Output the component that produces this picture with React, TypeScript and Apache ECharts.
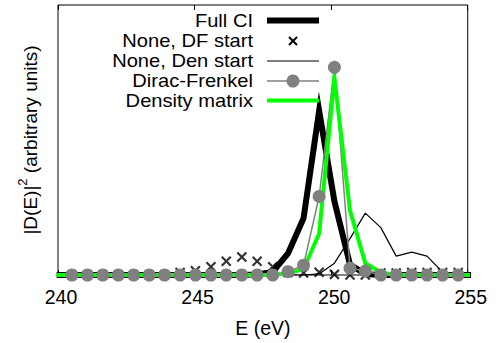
import React, { useEffect, useRef } from "react";
import * as echarts from "echarts";

// Energy grid (eV)
const energies = [
  239.95, 240.51, 241.08, 241.64, 242.21, 242.77, 243.34, 243.9, 244.47, 245.03,
  245.6, 246.16, 246.73, 247.29, 247.86, 248.42, 248.99, 249.56, 250.12, 250.69,
  251.25, 251.82, 252.38, 252.95, 253.51, 254.08, 254.65, 255.21,
];

const fullCI = [
  0, 0, 0, 0, 0, 0, 0, 0, 0, 0,
  0, 0, 0, 0.003, 0.015, 0.104, 0.274, 0.79, 0.355, 0.05,
  0.004, 0, 0, 0, 0, 0, 0, 0,
];

const noneDFStart = [
  0, 0, 0, 0, 0, 0, 0, 0, 0.012, 0.02,
  0.04, 0.066, 0.087, 0.066, 0.04, 0.012, 0.01, 0.013, 0.003, 0,
  0, 0.01, 0.01, 0.012, 0.012, 0.012, 0.012, 0,
];

const noneDenStart = [
  0, 0, 0, 0, 0, 0, 0, 0, 0, 0,
  0, 0, 0, 0, 0, 0, 0, 0.005, 0.057, 0.175,
  0.298, 0.228, 0.091, 0.11, 0.091, 0.014, 0, 0,
];

const diracFrenkel = [
  0, 0, 0, 0, 0, 0, 0, 0, 0, 0,
  0, 0, 0, 0, 0, 0.016, 0.047, 0.378, 1.0, 0.032,
  0.019, 0, 0, 0, 0, 0, 0, 0,
];

const densityMatrix = [
  0, 0, 0, 0, 0, 0, 0, 0, 0, 0,
  0, 0, 0, 0, 0, 0.008, 0.028, 0.2, 0.95, 0.31,
  0.057, 0.012, 0, 0, 0, 0, 0, 0,
];

const legendNames = [
  "Full CI",
  "None, DF start",
  "None, Den start",
  "Dirac-Frenkel",
  "Density matrix",
];

const xMin = 240;
const xMax = 255;
const xStep = 5;
const yMin = 0;
const yMax = 1.3;

const FONT = '"Liberation Sans", Arial, Helvetica, sans-serif';
const GRAY = "#808080";
const GREEN = "#00ff00";

const pairs = (vals: number[]) => energies.map((e, i) => [e, vals[i]]);

export default function App() {
  const ref = useRef<HTMLDivElement>(null);

  useEffect(() => {
    if (!ref.current) return;
    const chart = echarts.init(ref.current, undefined, { renderer: "svg" });

    const rowY = [20.5, 41, 61, 81, 100.5];
    const textRight = 253;
    const iconL = 267;
    const iconR = 319;
    const iconC = 293;
    const hl = (y: number, stroke: string, lineWidth: number) => ({
      type: "line",
      shape: { x1: iconL, y1: y, x2: iconR, y2: y },
      style: { stroke, lineWidth },
      z: 100,
    });

    const graphic: any[] = [
      ...legendNames.map((n, i) => ({
        type: "text",
        z: 100,
        x: textRight,
        y: rowY[i],
        scaleX: 1.15,
        scaleY: 1,
        style: {
          text: n,
          x: 0,
          y: 0,
          align: "right",
          verticalAlign: "middle",
          fontSize: 17.5,
          fontFamily: FONT,
          fill: "#000",
        },
      })),
      hl(rowY[0], "#000", 6),
      {
        type: "line",
        z: 100,
        shape: { x1: iconC - 4, y1: rowY[1] - 4, x2: iconC + 4, y2: rowY[1] + 4 },
        style: { stroke: "#000", lineWidth: 2 },
      },
      {
        type: "line",
        z: 100,
        shape: { x1: iconC + 4, y1: rowY[1] - 4, x2: iconC - 4, y2: rowY[1] + 4 },
        style: { stroke: "#000", lineWidth: 2 },
      },
      hl(rowY[2], "#000", 1.2),
      hl(rowY[3], GRAY, 1.5),
      {
        type: "circle",
        z: 100,
        shape: { cx: iconC, cy: rowY[3], r: 6.5 },
        style: { fill: GRAY },
      },
      hl(rowY[4], GREEN, 4),
    ];

    const xAxisBase = {
      type: "value",
      min: xMin,
      max: xMax,
      interval: xStep,
      splitLine: { show: false },
      axisLine: { show: false },
      axisTick: { show: true, inside: true, length: 5, lineStyle: { color: "#000", width: 1 } },
    };

    chart.setOption({
      animation: false,
      backgroundColor: "#fff",
      grid: {
        left: 58,
        right: 12,
        top: 5,
        bottom: 63,
        show: true,
        borderColor: "#000",
        borderWidth: 1,
        backgroundColor: "transparent",
        containLabel: false,
      },
      xAxis: [
        {
          ...xAxisBase,
          position: "bottom",
          name: "E (eV)",
          nameLocation: "middle",
          nameGap: 43,
          nameTextStyle: { fontSize: 19.5, fontFamily: FONT, color: "#000" },
          axisLabel: {
            show: true,
            fontSize: 19.5,
            fontFamily: FONT,
            color: "#000",
            margin: 12,
            padding: [0, 0, 0, 6],
          },
        },
        {
          ...xAxisBase,
          position: "top",
          axisLabel: { show: false },
        },
      ],
      yAxis: {
        type: "value",
        min: yMin,
        max: yMax,
        splitLine: { show: false },
        axisLine: { show: false },
        axisTick: { show: false },
        axisLabel: { show: false },
        name: "|D(E)|{sup|2} (arbitrary units)",
        nameLocation: "middle",
        nameGap: 14,
        nameTextStyle: {
          fontSize: 19,
          fontFamily: FONT,
          color: "#000",
          lineHeight: 28,
          rich: {
            sup: { fontSize: 13, fontFamily: FONT, color: "#000", lineHeight: 13, verticalAlign: "top" },
          },
        },
      },
      graphic,
      series: [
        {
          name: legendNames[0],
          type: "line",
          data: pairs(fullCI),
          symbol: "none",
          lineStyle: { color: "#000", width: 6, join: "miter", miterLimit: 10.01 },
          clip: true,
        },
        {
          name: legendNames[1],
          type: "scatter",
          data: pairs(noneDFStart),
          symbol: "path://M0,0L10,10M10,0L0,10",
          symbolSize: 9,
          itemStyle: { color: "rgba(0,0,0,0)", borderColor: "#000", borderWidth: 2.2 },
          clip: true,
        },
        {
          name: legendNames[2],
          type: "line",
          data: pairs(noneDenStart),
          symbol: "none",
          lineStyle: { color: "#000", width: 1.2 },
          clip: true,
        },
        {
          name: legendNames[3],
          type: "line",
          data: pairs(diracFrenkel),
          symbol: "circle",
          symbolSize: 13,
          showAllSymbol: true,
          itemStyle: { color: GRAY },
          lineStyle: { color: GRAY, width: 1.5 },
          clip: true,
        },
        {
          name: legendNames[4],
          type: "line",
          data: pairs(densityMatrix),
          symbol: "none",
          lineStyle: { color: GREEN, width: 4, join: "miter", miterLimit: 12 },
          clip: true,
        },
      ],
    });

    return () => chart.dispose();
  }, []);

  return (
    <div
      ref={ref}
      style={{ position: "fixed", left: 0, top: 0, width: 490, height: 343, background: "#fff" }}
    />
  );
}
